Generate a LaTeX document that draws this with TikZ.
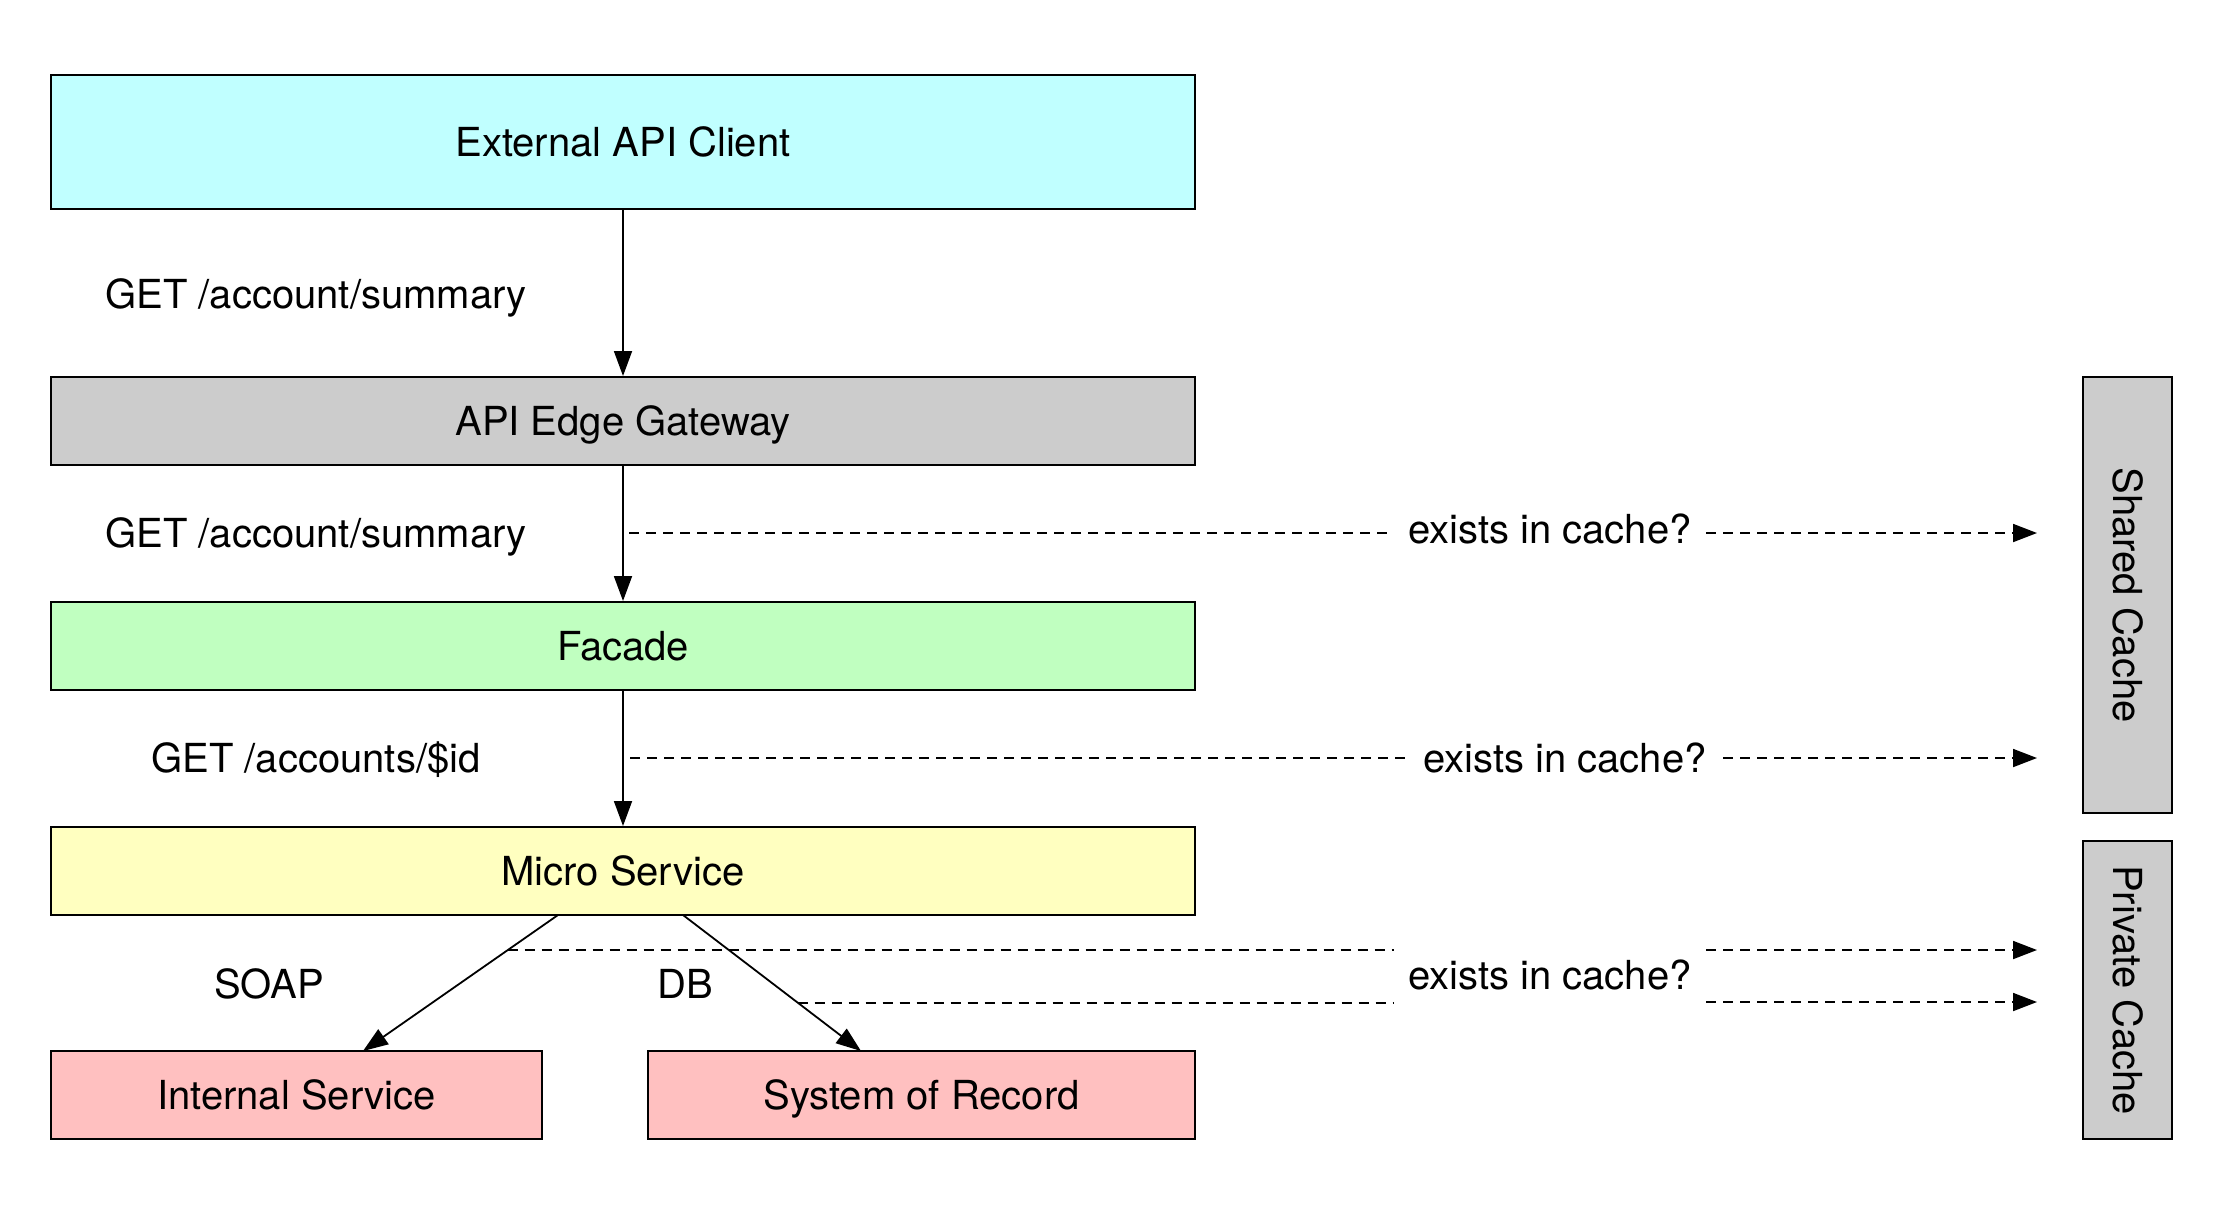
\documentclass[tikz,border=0pt]{standalone}
\usepackage{fontspec}
\setmainfont{TeX Gyre Heros}
\usetikzlibrary{arrows.meta,calc}
\definecolor{cyanfill}{HTML}{C0FFFF}
\definecolor{greyfill}{HTML}{CCCCCC}
\definecolor{greenfill}{HTML}{C0FFC0}
\definecolor{yellowfill}{HTML}{FFFFC0}
\definecolor{redfill}{HTML}{FFC0C0}
\tikzset{
  box/.style={draw=black, line width=1pt, rectangle, inner sep=0pt,
    text height=14.4pt, text depth=0pt, font=\fontsize{20}{24}\selectfont},
  lbl/.style={inner sep=0pt, text height=14.4pt, text depth=0pt, font=\fontsize{20}{24}\selectfont},
  clbl/.style={lbl, inner xsep=7pt},
  flow/.style={line width=0.9pt, -{Triangle[length=12.5pt,width=9pt]}},
  cachelink/.style={line width=0.9pt, dash pattern=on 5pt off 3.5pt},
  cachearrow/.style={cachelink, -{Triangle[length=12pt,width=9pt]}}
}
\begin{document}
\begin{tikzpicture}[x=0.5pt,y=-0.5pt]
\useasboundingbox (0,0) rectangle (2225,1212);

% boxes
\node[box, fill=cyanfill, minimum width=572pt, minimum height=67pt] (ext) at (623,142) {External API Client};
\node[box, fill=greyfill, minimum width=572pt, minimum height=44pt] (gw) at (623,421) {API Edge Gateway};
\node[box, fill=greenfill, minimum width=572pt, minimum height=44pt] (fac) at (623,646) {Facade};
\node[box, fill=yellowfill, minimum width=572pt, minimum height=44pt] (ms) at (623,871) {Micro Service};
\node[box, fill=redfill, minimum width=245.5pt, minimum height=44pt] (is) at (296.5,1095) {Internal Service};
\node[box, fill=redfill, minimum width=273.5pt, minimum height=44pt] (sor) at (921.5,1095) {System of Record};
\node[box, fill=greyfill, rotate=-90, minimum width=218pt, minimum height=44.5pt] (sc) at (2127.5,595) {Shared Cache};
\node[box, fill=greyfill, rotate=-90, minimum width=149pt, minimum height=44.5pt] (pc) at (2127.5,990) {Private Cache};

% main flow
\draw[flow] (ext.south) -- (gw.north);
\draw[flow] (gw.south) -- (fac.north);
\draw[flow] (fac.south) -- (ms.north);
\coordinate (msL) at (558,915);
\coordinate (msR) at (683,915);
\coordinate (isT) at (363,1051);
\coordinate (sorT) at (861,1051);
\draw[flow] (msL) -- (isT);
\draw[flow] (msR) -- (sorT);

% flow labels
\node[lbl] (l1) at (316,294) {GET /account/summary};
\node[lbl] (l2) at (316,533) {GET /account/summary};
\node[lbl] (l3) at (316,758) {GET /accounts/\$id};
\node[lbl] (l4) at (269,984) {SOAP};
\node[lbl] (l5) at (685,984) {DB};

% cache checks
\coordinate (c1s) at (629,533);
\coordinate (c1e) at (2037,533);
\coordinate (c2s) at (630,758);
\coordinate (c2e) at (2037,758);
\coordinate (c3s) at ($(msL)!0.259!(isT)$);
\coordinate (c3e) at (2037,950);
\coordinate (c4s) at ($(msR)!0.644!(sorT)$);
\coordinate (c4e) at (2037,1002);

\node[clbl] (q1) at (1550,529) {exists in cache?};
\node[clbl, inner xsep=8pt] (q2) at (1565,758) {exists in cache?};
\node[clbl] (q3) at (1550,975) {exists in cache?};

\draw[cachelink] (c1s) -- (q1.west |- c1s);
\draw[cachearrow] (q1.east |- c1e) -- (c1e);
\draw[cachelink] (c2s) -- (q2.west |- c2s);
\draw[cachearrow] (q2.east |- c2e) -- (c2e);
\draw[cachelink] (c3s) -- (q3.west |- c3s);
\draw[cachearrow] (q3.east |- c3e) -- (c3e);
\draw[cachelink] (c4s) -- (q3.west |- c4s);
\draw[cachearrow] (q3.east |- c4e) -- (c4e);
\end{tikzpicture}
\end{document}
